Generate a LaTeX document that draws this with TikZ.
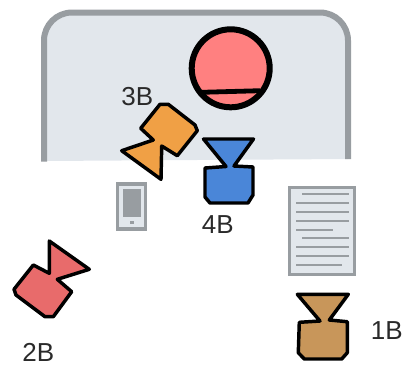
\documentclass[tikz,border=0pt]{standalone}
\usepackage{fontspec}
\setmainfont{Liberation Sans}
\definecolor{panelfill}{HTML}{E2E7EC}
\definecolor{panelline}{HTML}{989DA1}
\definecolor{ballred}{HTML}{FF8080}
\definecolor{camorange}{HTML}{F0A045}
\definecolor{camblue}{HTML}{4A86D8}
\definecolor{camred}{HTML}{E86B6B}
\definecolor{cambrown}{HTML}{C8965A}
\definecolor{labelink}{HTML}{2A2A2A}
\tikzset{
  campoly/.style={draw=black,line width=2.6pt,line join=round},
  camlabel/.style={font=\fontsize{19.5pt}{22pt}\selectfont,text=labelink,inner sep=0pt},
  docline/.style={draw=panelline,line width=1.6pt},
}
\begin{document}
\begin{tikzpicture}[x=0.75pt,y=-0.75pt]
\useasboundingbox (0,0) rectangle (406,369);
% panel
\fill[panelfill] (44,161) [rounded corners=21pt] -- (44,12.5) -- (348,12.5) [sharp corners] -- (348,159) -- cycle;
\draw[panelline,line width=4.5pt,rounded corners=21pt] (44,161.5) -- (44,12.5) -- (348,12.5) -- (348,159);
% ball
\fill[ballred] (230.7,68.3) circle[radius=39];
\draw[black,line width=4.5pt] (230.7,68.3) circle[radius=39];
\draw[black,line width=3.6pt] (202,92.3) -- (260,90.7);
% phone
\draw[panelline,fill=panelfill,line width=2.4pt] (117.5,184) rectangle (145.5,229);
\fill[panelline] (122.7,189.3) rectangle (140.7,216.7);
\fill[panelline] (129.7,221) rectangle (133.7,224);
% document
\draw[panelline,fill=panelfill,line width=1.9pt] (289.5,187.5) rectangle (354.5,274.5);
\foreach \ya/\xa/\xb in {194.3/302/349,203.3/296/349,212/296/349,220.7/296/349,229.7/296/333.3,238.3/302/349,247.3/296/349,256/296/349,264.7/296/342}{
  \draw[docline] (\xa,\ya) -- (\xb,\ya);
}
% cameras
\draw[campoly,fill=camorange] (160,104.3) -- (168.3,104.3) -- (195,125) -- (197.3,130.7) -- (177.3,155.7) -- (161.7,146) -- (161,179.3) -- (121.7,150.7) -- (153.3,140) -- (140.7,128.3) -- cycle;
\draw[campoly,fill=camblue] (203.5,139) -- (253.5,139) -- (234,166) -- (253,167) -- (253,195) -- (248,203) -- (210,203) -- (205,197) -- (205,168) -- (226,166.5) -- cycle;
\draw[campoly,fill=camred] (49.3,241) -- (89.3,269.3) -- (57.3,279.3) -- (71.7,291.7) -- (53.3,316.7) -- (45,316.7) -- (16,295) -- (14,289.3) -- (33.3,265) -- (49.3,273.3) -- cycle;
\draw[campoly,fill=cambrown] (297.3,294.3) -- (348.3,294.3) -- (329.3,320) -- (347.3,321.7) -- (347.3,352.7) -- (341.7,359) -- (304.3,359) -- (298.3,352.7) -- (299.3,322.3) -- (320,321) -- cycle;
% labels
\node[camlabel] (l3) at (137.3,96.7) {3B};
\node[camlabel] (l4) at (217.7,225) {4B};
\node[camlabel] (l1) at (386.7,330.7) {1B};
\node[camlabel] (l2) at (38.3,352.7) {2B};
\end{tikzpicture}
\end{document}
